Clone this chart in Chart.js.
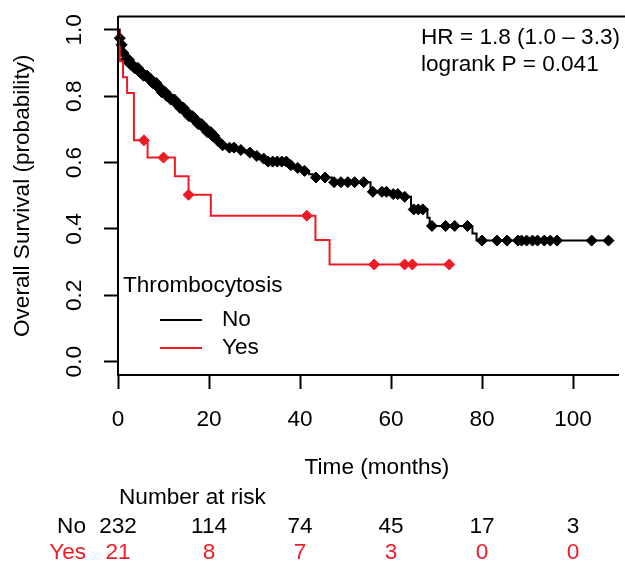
<!DOCTYPE html>
<html>
<head>
<meta charset="utf-8">
<script src="https://cdn.jsdelivr.net/npm/chart.js@4.4.1/dist/chart.umd.min.js"></script>
<style>
  html, body { margin: 0; padding: 0; background: #fff; }
  #wrap { width: 625px; height: 564px; }
</style>
</head>
<body>
<div id="wrap"><canvas id="km"></canvas></div>
<script>
// Kaplan-Meier steps (time in months, survival after the drop)
const noTimes = [0, 0.3, 0.6, 1.0, 1.5, 2.5, 3.5, 4.5, 5.5, 6.5, 7.5, 8.5, 9.5, 10.5, 11.5, 12.5, 13.5, 14.5, 15.5, 16.5, 17.5, 18.5, 19.5, 20.5, 21.5, 22.5, 24, 26, 28, 29.5, 31, 32.5, 37.5, 38.5, 40, 42, 42.8, 47, 55.5, 60, 62, 64.4, 68, 68.5, 77.9, 78.8, 107.8];
const noSurv = [1, 0.975, 0.955, 0.93, 0.91, 0.895, 0.885, 0.872, 0.862, 0.852, 0.84, 0.826, 0.812, 0.80, 0.79, 0.778, 0.765, 0.752, 0.74, 0.728, 0.716, 0.705, 0.692, 0.68, 0.665, 0.652, 0.645, 0.638, 0.63, 0.62, 0.612, 0.603, 0.592, 0.584, 0.575, 0.565, 0.555, 0.541, 0.512, 0.505, 0.497, 0.459, 0.434, 0.409, 0.386, 0.365, 0.365];
const noCensor = [0.4, 0.8, 1.2, 1.7, 2, 2.4, 2.8, 3.2, 3.6, 4, 4.4, 4.8, 5.2, 5.6, 6, 6.4, 6.8, 7.2, 7.6, 8, 8.4, 8.8, 9.2, 9.6, 10, 10.4, 10.8, 11.2, 11.6, 12, 12.4, 12.8, 13.2, 13.6, 14, 14.4, 14.8, 15.2, 15.6, 16, 16.4, 16.8, 17.2, 17.6, 18, 18.4, 18.8, 19.2, 19.6, 20, 20.4, 20.8, 21.2, 22, 23, 24.5, 25.5, 27, 29, 30.5, 32, 33, 34, 35, 36, 37, 38, 39.5, 41, 43.5, 45.5, 47.5, 49, 50.5, 52, 54, 56, 58, 59, 60.5, 61.5, 63, 65, 66, 67, 69, 72, 74, 76.8, 80, 83.3, 85.5, 87.9, 88.7, 89.8, 91.1, 92.2, 93.7, 95, 96.5, 104.1, 107.8];

const yesTimes = [0, 0.4, 1.1, 2.0, 3.5, 6.5, 12.5, 15.5, 20.4, 43.4, 46.5, 72.8];
const yesSurv = [1, 0.905, 0.857, 0.81, 0.667, 0.615, 0.559, 0.503, 0.44, 0.367, 0.293, 0.293];
const yesCensor = [5.7, 10, 15.5, 41.5, 56.3, 63, 64.7, 72.8];

const xTicks = [0, 20, 40, 60, 80, 100];
const yTicks = [0, 0.2, 0.4, 0.6, 0.8, 1.0];
const yTickLabels = ['0.0', '0.2', '0.4', '0.6', '0.8', '1.0'];

const groups = ['No', 'Yes'];
const riskNo = [232, 114, 74, 45, 17, 3];
const riskYes = [21, 8, 7, 3, 0, 0];

const BLACK = '#000000';
const RED = '#ec1c24';
const FONT = '"Liberation Sans", Arial, Helvetica, sans-serif';
const FSIZE = 22.6;

const steps = (times, surv) => times.map((t, i) => ({ x: t, y: surv[i] }));
const survAt = (times, surv, t) => {
  let s = 1;
  times.forEach((tt, i) => { if (tt <= t) s = surv[i]; });
  return s;
};
const marks = (times, surv, cens) => cens.map(t => ({ x: t, y: survAt(times, surv, t) }));

const decor = {
  id: 'decor',
  afterDraw(chart) {
    const { ctx, chartArea: a, scales: { x, y } } = chart;
    ctx.save();
    // top of the box
    ctx.strokeStyle = BLACK;
    ctx.lineWidth = 2;
    ctx.beginPath();
    ctx.moveTo(a.left, a.top);
    ctx.lineTo(chart.width, a.top);
    ctx.stroke();

    ctx.font = FSIZE + 'px ' + FONT;
    ctx.fillStyle = BLACK;
    // rotated y tick labels
    ctx.textAlign = 'center';
    ctx.textBaseline = 'middle';
    yTicks.forEach((v, i) => {
      ctx.save();
      ctx.translate(75, y.getPixelForValue(v));
      ctx.rotate(-Math.PI / 2);
      ctx.fillText(yTickLabels[i], 0, 0);
      ctx.restore();
    });
    // y title
    ctx.save();
    ctx.translate(23, y.getPixelForValue(0.5));
    ctx.rotate(-Math.PI / 2);
    ctx.fillText('Overall Survival (probability)', 0, 0);
    ctx.restore();

    // x title
    ctx.fillText('Time (months)', 377, 468);

    // statistics
    ctx.textAlign = 'left';
    ctx.fillText('HR = 1.8 (1.0 – 3.3)', 421, 38);
    ctx.fillText('logrank P = 0.041', 421, 65);

    // legend
    ctx.fillText('Thrombocytosis', 123, 286);
    [BLACK, RED].forEach((c, i) => {
      const ly = 320 + i * 28;
      ctx.strokeStyle = c;
      ctx.lineWidth = 2;
      ctx.beginPath();
      ctx.moveTo(160, ly);
      ctx.lineTo(202, ly);
      ctx.stroke();
      ctx.fillStyle = BLACK;
      ctx.fillText(groups[i], 222, ly);
    });

    // number at risk table
    ctx.fillText('Number at risk', 119, 498);
    ctx.textAlign = 'right';
    ctx.fillStyle = BLACK;
    ctx.fillText(groups[0], 86, 527);
    ctx.fillStyle = RED;
    ctx.fillText(groups[1], 86, 553);
    ctx.textAlign = 'center';
    xTicks.forEach((t, i) => {
      const px = x.getPixelForValue(t);
      ctx.fillStyle = BLACK;
      ctx.fillText(String(riskNo[i]), px, 527);
      ctx.fillStyle = RED;
      ctx.fillText(String(riskYes[i]), px, 553);
    });
    ctx.restore();
  }
};

new Chart(document.getElementById('km'), {
  type: 'scatter',
  data: {
    datasets: [
      {
        label: 'No',
        data: steps(noTimes, noSurv),
        showLine: true,
        stepped: 'before',
        borderColor: BLACK,
        borderWidth: 2,
        pointRadius: 0,
        clip: false
      },
      {
        label: 'Yes',
        data: steps(yesTimes, yesSurv),
        showLine: true,
        stepped: 'before',
        borderColor: RED,
        borderWidth: 2,
        pointRadius: 0,
        clip: false
      },
      {
        label: 'No censored',
        data: marks(noTimes, noSurv, noCensor),
        showLine: false,
        pointStyle: 'rectRot',
        pointRadius: 5.5,
        backgroundColor: BLACK,
        borderColor: BLACK,
        borderWidth: 1,
        clip: false
      },
      {
        label: 'Yes censored',
        data: marks(yesTimes, yesSurv, yesCensor),
        showLine: false,
        pointStyle: 'rectRot',
        pointRadius: 5.5,
        backgroundColor: RED,
        borderColor: RED,
        borderWidth: 1,
        clip: false
      }
    ]
  },
  options: {
    responsive: true,
    maintainAspectRatio: false,
    animation: false,
    layout: { padding: { top: 8, right: 0, left: 0, bottom: 0 } },
    plugins: {
      legend: { display: false },
      tooltip: { enabled: false }
    },
    scales: {
      x: {
        type: 'linear',
        min: 0,
        max: 110,
        afterBuildTicks: s => { s.ticks = xTicks.map(v => ({ value: v })); },
        afterFit: s => { s.height = 189; },
        ticks: {
          color: BLACK,
          font: { family: FONT, size: FSIZE },
          padding: 17,
          maxRotation: 0,
          autoSkip: false
        },
        grid: {
          drawOnChartArea: false,
          tickLength: 14,
          tickColor: BLACK,
          tickWidth: 2
        },
        border: { display: true, color: BLACK, width: 2 }
      },
      y: {
        type: 'linear',
        min: -0.04,
        max: 1.04,
        afterBuildTicks: s => { s.ticks = yTicks.map(v => ({ value: v })); },
        afterFit: s => { s.width = 118; },
        ticks: {
          color: 'rgba(0,0,0,0)',
          font: { family: FONT, size: FSIZE },
          callback: v => yTickLabels[yTicks.indexOf(v)]
        },
        grid: {
          drawOnChartArea: false,
          tickLength: 14,
          tickColor: BLACK,
          tickWidth: 2
        },
        border: { display: true, color: BLACK, width: 2 }
      }
    }
  },
  plugins: [decor]
});
</script>
</body>
</html>
